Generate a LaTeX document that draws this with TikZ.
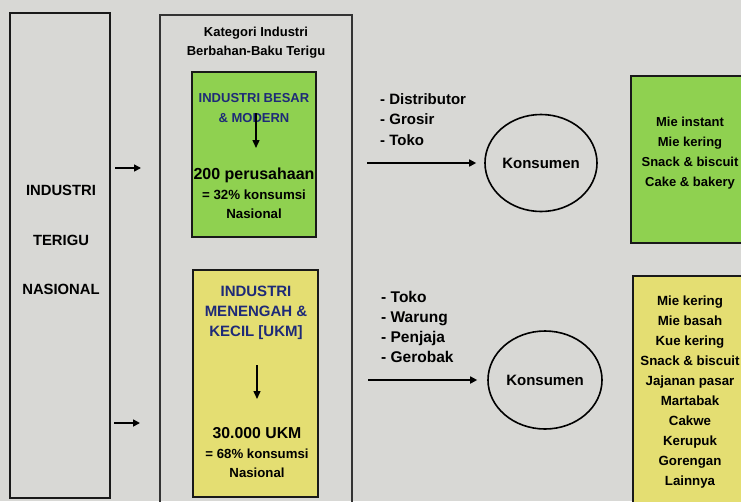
\documentclass[tikz,border=0pt]{standalone}
\usepackage{fontspec}
\setmainfont{Liberation Sans}
\usetikzlibrary{arrows.meta,shapes.geometric}
\definecolor{bg}{HTML}{D8D8D5}
\definecolor{grn}{HTML}{8FD150}
\definecolor{ylw}{HTML}{E4DE72}
\definecolor{navy}{HTML}{1E2A78}
\newcommand{\fs}[2]{\bfseries\fontsize{#1}{#2}\selectfont}
\begin{document}
\begin{tikzpicture}[x=1pt,y=-1pt,
  frame/.style={draw=black!90,line width=1.6pt},
  lbl/.style={align=center,inner sep=0pt},
  arr/.style={-{Triangle[length=7pt,width=7pt]},line width=1.6pt},
  oval/.style={draw,ellipse,inner sep=0pt,line width=1.6pt,minimum width=112pt,minimum height=97pt,font=\fs{15}{17}},
  listtxt/.style={align=left,inner sep=0pt,anchor=west},
  prod/.style={align=center,inner sep=0pt}]
\useasboundingbox (0,0) rectangle (741,501);
\fill[bg] (0,0) rectangle (741,501);
% left box
\draw[frame] (10,13) rectangle (110,498);
\node[lbl,font=\fs{14.8}{17}] (ind) at (61,190) {INDUSTRI};
\node[lbl,font=\fs{14.8}{17}] (ter) at (61,240) {TERIGU};
\node[lbl,font=\fs{14.8}{17}] (nas) at (61,289) {NASIONAL};
% middle big box
\draw[draw=black!80,line width=1.2pt] (160,505) -- (160,15) -- (352,15) -- (352,505);
\node[lbl,font=\fs{13}{19}] (kat) at (256,42.5) {Kategori Industri\\Berbahan-Baku Terigu};
% arrows from left
\coordinate (a1s) at (115,168); \coordinate (a1e) at (141,168);
\coordinate (a2s) at (114,423); \coordinate (a2e) at (140,423);
\draw[arr] (a1s) -- (a1e);
\draw[arr] (a2s) -- (a2e);
% green box
\node[frame,fill=grn,minimum width=124pt,minimum height=165pt,inner sep=0pt] (gb) at (254,154.5) {};
\node[lbl,text=navy,font=\fs{13}{20}] (gbt) at (254,108) {INDUSTRI BESAR\\\& MODERN};
\node[lbl,font=\fs{16}{18}] (g1) at (254,175) {200 perusahaan};
\node[lbl,font=\fs{13.3}{18.5}] (g2) at (254,204) {= 32\% konsumsi\\Nasional};
\coordinate (ga1) at (256,113); \coordinate (ga2) at (256,148);
\draw[-{Triangle[length=8pt,width=7pt]},line width=1.4pt] (ga1) -- (ga2);
% yellow box
\node[frame,fill=ylw,minimum width=125pt,minimum height=227pt,inner sep=0pt] (yb) at (255.5,383.5) {};
\node[lbl,text=navy,font=\fs{15}{20}] (ybt) at (256,312.5) {INDUSTRI\\MENENGAH \&\\KECIL [UKM]};
\coordinate (ya1) at (257,365); \coordinate (ya2) at (257,399);
\draw[-{Triangle[length=8pt,width=7pt]},line width=1.4pt] (ya1) -- (ya2);
\node[lbl,font=\fs{15.8}{18}] (y1) at (257,433) {30.000 UKM};
\node[lbl,font=\fs{13.2}{19}] (y2) at (257,463.5) {= 68\% konsumsi\\Nasional};
% upper channel
\node[listtxt,font=\fs{15}{20.5}] (l1) at (380,119.5) {- Distributor\\- Grosir\\- Toko};
\node[oval] (k1) at (541,163) {Konsumen};
\coordinate (c1) at (367,163);
\draw[arr,shorten >=8pt] (c1) -- (k1.west);
% lower channel
\node[listtxt,font=\fs{15.5}{20}] (l2) at (381,327) {- Toko\\- Warung\\- Penjaja\\- Gerobak};
\node[oval,minimum width=114pt,minimum height=98pt] (k2) at (545,380) {Konsumen};
\coordinate (c2) at (368,380);
\draw[arr,shorten >=10pt] (c2) -- (k2.west);
% right green box
\node[frame,fill=grn,minimum width=130pt,minimum height=167pt,inner sep=0pt,anchor=north west] (rg) at (630,75) {};
\node[prod,font=\fs{13}{20}] (rgt) at (690,153) {Mie instant\\Mie kering\\Snack \& biscuit\\Cake \& bakery};
% right yellow box
\node[frame,fill=ylw,minimum width=130pt,minimum height=240pt,inner sep=0pt,anchor=north west] (ry) at (632,275) {};
\node[prod,font=\fs{13.3}{20}] (ryt) at (690,392) {Mie kering\\Mie basah\\Kue kering\\Snack \& biscuit\\Jajanan pasar\\Martabak\\Cakwe\\Kerupuk\\Gorengan\\Lainnya};
\end{tikzpicture}
\end{document}
